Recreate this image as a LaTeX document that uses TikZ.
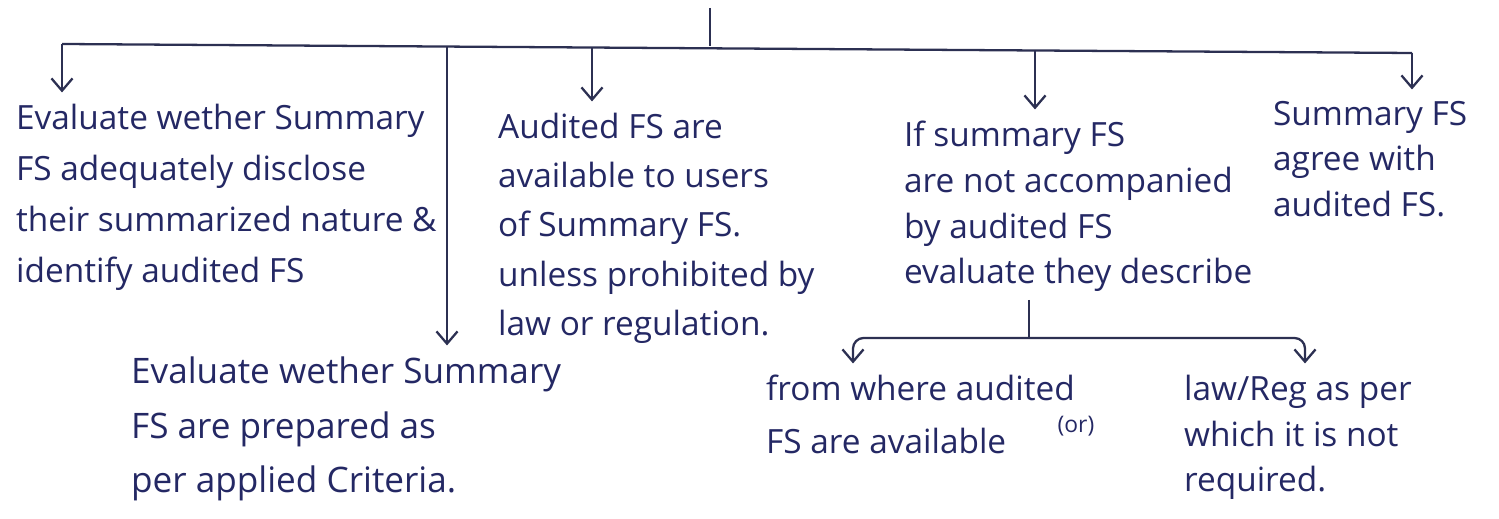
\documentclass[tikz,border=0pt]{standalone}
\usepackage{fontspec}
\setmainfont{Open Sans}
\usetikzlibrary{arrows.meta, positioning, calc}
\definecolor{ink}{RGB}{36,40,100}
\definecolor{pen}{RGB}{44,48,82}

\begin{document}
\begin{tikzpicture}[
    x=0.02cm, y=-0.02cm,
    line width=1.3pt, draw=pen,
    note/.style={anchor=north west, inner sep=0pt, align=left, text=ink, font=\fontsize{19}{28}\selectfont},
    lines/.style={font=\fontsize{19}{#1}\selectfont},
    arr/.style={-{Straight Barb[length=7pt, width=12pt]}, shorten >=6pt},
    small/.style={inner sep=0pt, text=ink, font=\fontsize{13}{15}\selectfont}
]
    \useasboundingbox (0,0) rectangle (1499,519);

    % ================= TEXT BLOCKS =================
    \node[note, lines=29] (DISCLOSE) at (15, 103) {Evaluate wether Summary\\FS adequately disclose\\their summarized nature \&\\identify audited FS};
    \node[note, lines=28] (AVAIL) at (497, 112) {Audited FS are\\available to users\\of Summary FS.\\unless prohibited by\\law or regulation.};
    \node[note, lines=26] (DESCRIBE) at (903, 120) {If summary FS\\are not accompanied\\by audited FS\\evaluate they describe};
    \node[note, lines=26] (AGREE) at (1272, 100) {Summary FS\\agree with\\audited FS.};
    \node[note, font=\fontsize{20}{31}\selectfont] (PREPARED) at (130, 356) {Evaluate wether Summary\\FS are prepared as\\per applied Criteria.};
    \node[note, lines=30] (WHERE) at (765, 374) {from where audited\\FS are available};
    \node[note, lines=26] (PERREG) at (1183, 374) {law/Reg as per\\which it is not\\required.};
    \node[small] (OR) at (1076, 426) {(or)};

    % ================= MAIN BUS =================
    \coordinate (TOP) at (710, 8);
    \coordinate (HUB) at (710, 46);
    \coordinate (BUSL) at (62, 44);
    \coordinate (BUSR) at (1412, 53);
    \coordinate (J2) at (447, 47);
    \coordinate (J3) at (592, 48);
    \coordinate (J4) at (1035, 50);

    \draw (TOP) -- (HUB);
    \draw (BUSL) -- (BUSR);
    \draw[arr] (BUSL) -- (BUSL |- DISCLOSE.north);
    \draw[arr] (J2) -- (J2 |- PREPARED.north);
    \draw[arr] (J3) -- (J3 |- AVAIL.north);
    \draw[arr] (J4) -- (J4 |- DESCRIBE.north);
    \draw[arr] (BUSR) -- (BUSR |- AGREE.north);

    % ================= SUB BRANCH =================
    \coordinate (SUBHUB) at (1029, 338);
    \coordinate (SUBL) at (853, 338);
    \coordinate (SUBR) at (1305, 338);

    \draw[shorten <=4pt] (DESCRIBE.south -| SUBHUB) -- (SUBHUB);
    \draw[arr, rounded corners=6pt] (SUBHUB) -| (SUBL |- WHERE.north);
    \draw[arr, rounded corners=6pt] (SUBHUB) -| (SUBR |- PERREG.north);

\end{tikzpicture}
\end{document}
